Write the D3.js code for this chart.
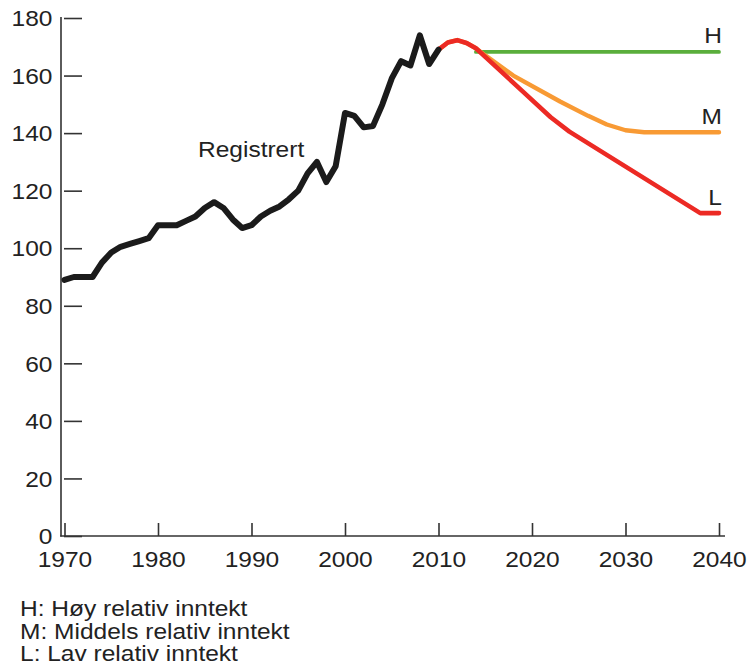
<!DOCTYPE html>
<html>
<head>
<meta charset="utf-8">
<script src="https://cdn.jsdelivr.net/npm/d3@7/dist/d3.min.js"></script>
<style>
  html, body { margin: 0; padding: 0; background: #fff; }
  svg { display: block; }
  text { font-family: "Liberation Sans", Arial, Helvetica, sans-serif; fill: #222; }
</style>
</head>
<body>
<svg id="chart" width="748" height="669"></svg>
<script>
// ---- Data ----
const registrertYears = [1970,1971,1972,1973,1974,1975,1976,1977,1978,1979,1980,1981,1982,1983,1984,1985,1986,1987,1988,1989,1990,1991,1992,1993,1994,1995,1996,1997,1998,1999,2000,2001,2002,2003,2004,2005,2006,2007,2008,2009,2010];
const registrertValues = [89,90,90,90,95,98.5,100.5,101.5,102.5,103.5,108,108,108,109.5,111,114,116,114,110,107,108,111,113,114.5,117,120,126,130,123,128.5,147,146,142,142.5,150,159,165,163.5,174,164,169];

const hoyYears = [2014,2040];
const hoyValues = [168.2,168.2];

const middelsYears = [2010,2011,2012,2013,2014,2015,2018,2023,2026,2028,2030,2032,2040];
const middelsValues = [169,171.5,172.3,171.3,169.5,167,160,151,146,143,141,140.3,140.3];

const lavYears = [2010,2011,2012,2013,2014,2015,2019,2022,2024,2038,2040];
const lavValues = [169,171.5,172.3,171.3,169.5,166.5,154.5,145.5,140.5,112.2,112.2];

const xTickValues = [1970,1980,1990,2000,2010,2020,2030,2040];
const yTickValues = [0,20,40,60,80,100,120,140,160,180];
const seriesLabels = ["H","M","L"];
const legendLines = ["H: Høy relativ inntekt","M: Middels relativ inntekt","L: Lav relativ inntekt"];
const annotationText = "Registrert";

// ---- Layout ----
const svg = d3.select("#chart");
const STRETCH = 1.14;
const FS = 21.5;

const x = d3.scaleLinear().domain([1970, 2040]).range([64.5, 719]);
const y = d3.scaleLinear().domain([0, 180]).range([536, 18]);

const zip = (xs, vs) => xs.map((d, i) => [d, vs[i]]);

// axes lines
svg.append("line").attr("x1", 61).attr("x2", 61).attr("y1", 17).attr("y2", 536.5)
  .attr("stroke", "#333").attr("stroke-width", 1.6);
svg.append("line").attr("x1", 60.2).attr("x2", 725).attr("y1", 536).attr("y2", 536)
  .attr("stroke", "#333").attr("stroke-width", 1.6);

// y axis ticks
const yAxis = svg.append("g").attr("transform", "translate(64,0)")
  .call(d3.axisLeft(y).tickValues(yTickValues).tickSize(-18).tickSizeOuter(0));
yAxis.select(".domain").remove();
yAxis.selectAll(".tick line").attr("stroke", "#333").attr("stroke-width", 1.6);
yAxis.selectAll(".tick text")
  .attr("x", 0).attr("dy", "0.36em")
  .attr("transform", `translate(-11.5,0) scale(${STRETCH},1)`)
  .attr("text-anchor", "end")
  .style("font-size", FS + "px")
  .style("font-family", "'Liberation Sans', Arial, sans-serif")
  .attr("fill", "#222");

// x axis ticks
const xAxis = svg.append("g").attr("transform", "translate(0,536)")
  .call(d3.axisBottom(x).tickValues(xTickValues).tickFormat(d3.format("d")).tickSize(-13).tickSizeOuter(0));
xAxis.select(".domain").remove();
xAxis.selectAll(".tick line").attr("stroke", "#333").attr("stroke-width", 1.6);
xAxis.selectAll(".tick text")
  .attr("y", 0).attr("dy", 0)
  .attr("transform", `translate(0,31) scale(${STRETCH},1)`)
  .attr("text-anchor", "middle")
  .style("font-size", FS + "px")
  .style("font-family", "'Liberation Sans', Arial, sans-serif")
  .attr("fill", "#222");

// series
const seriesDefs = [
  { data: zip(hoyYears, hoyValues), color: "#5aae3c", width: 3.8 },
  { data: zip(middelsYears, middelsValues), color: "#f89a34", width: 4.4 },
  { data: zip(lavYears, lavValues), color: "#ec2a24", width: 4.6 },
  { data: zip(registrertYears, registrertValues), color: "#1b1b1b", width: 6 }
];
const lineGen = d3.line().x(d => x(d[0])).y(d => y(d[1])).curve(d3.curveLinear);
seriesDefs.forEach(s => {
  svg.append("path").datum(s.data)
    .attr("d", lineGen)
    .attr("fill", "none").attr("stroke", s.color).attr("stroke-width", s.width)
    .attr("stroke-linejoin", "round").attr("stroke-linecap", "round");
});

// text helper
function addText(tx, ty, str, anchor) {
  svg.append("text")
    .attr("x", 0).attr("y", 0)
    .attr("transform", `translate(${tx},${ty}) scale(${STRETCH},1)`)
    .attr("text-anchor", anchor || "start")
    .style("font-size", FS + "px")
    .text(str);
}

// series end labels
const endVals = [hoyValues[hoyValues.length-1], middelsValues[middelsValues.length-1], lavValues[lavValues.length-1]];
seriesLabels.forEach((lab, i) => {
  addText(x(2040) + 3, y(endVals[i]) - 8.5, lab, "end");
});

addText(198, 157, annotationText, "start");

legendLines.forEach((t, i) => {
  addText(20, 616 + i * 22.5, t, "start");
});
</script>
</body>
</html>
